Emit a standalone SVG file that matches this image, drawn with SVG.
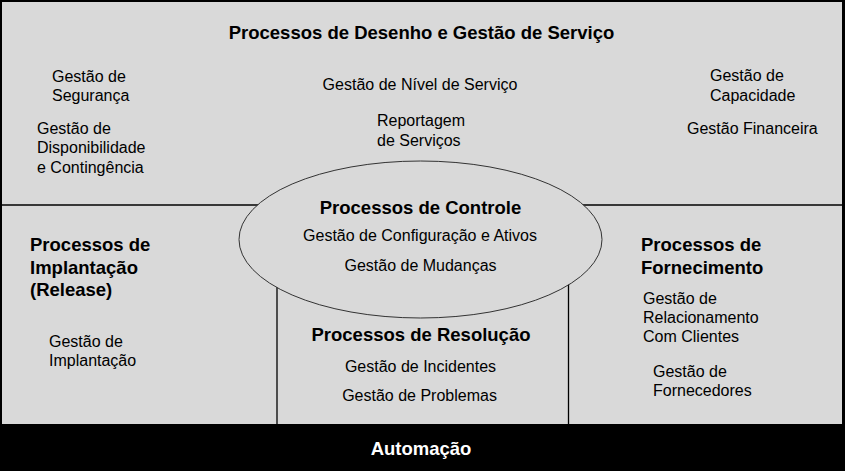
<svg xmlns="http://www.w3.org/2000/svg" width="845" height="471" viewBox="0 0 845 471">
<style>
.t{font-family:"Liberation Sans",Arial,sans-serif;font-size:16px;fill:#000}
.b{font-family:"Liberation Sans",Arial,sans-serif;font-size:18.5px;font-weight:bold;fill:#000}
.c{text-anchor:middle}
.w{fill:#fff}
.ln{stroke:#000;stroke-width:1.3;fill:none}
</style>
<rect x="0" y="0" width="845" height="471" fill="#000"/>
<rect x="2" y="2" width="840" height="422" fill="#d9d9d9"/>
<g id="dividers">
<line class="ln" x1="2" y1="205" x2="842" y2="205"/>
<line class="ln" x1="277" y1="250" x2="277" y2="424"/>
<line class="ln" x1="568.5" y1="250" x2="568.5" y2="424"/>
</g>
<g id="desenho">
<text class="b c" x="421.5" y="39">Processos de Desenho e Gestão de Serviço</text>
<text class="t" x="52" y="82">Gestão de</text>
<text class="t" x="52" y="101">Segurança</text>
<text class="t" x="37" y="134">Gestão de</text>
<text class="t" x="37" y="153">Disponibilidade</text>
<text class="t" x="37" y="173">e Contingência</text>
<text class="t c" x="420" y="90">Gestão de Nível de Serviço</text>
<text class="t" x="377" y="126">Reportagem</text>
<text class="t" x="377" y="146">de Serviços</text>
<text class="t" x="710" y="81">Gestão de</text>
<text class="t" x="710" y="101">Capacidade</text>
<text class="t" x="687" y="134">Gestão Financeira</text>
</g>
<g id="implantacao">
<text class="b" x="30" y="251">Processos de</text>
<text class="b" x="30" y="274">Implantação</text>
<text class="b" x="30" y="296">(Release)</text>
<text class="t" x="49" y="347">Gestão de</text>
<text class="t" x="49" y="366">Implantação</text>
</g>
<g id="fornecimento">
<text class="b" x="641" y="251">Processos de</text>
<text class="b" x="641" y="274">Fornecimento</text>
<text class="t" x="643" y="304">Gestão de</text>
<text class="t" x="643" y="323">Relacionamento</text>
<text class="t" x="643" y="342">Com Clientes</text>
<text class="t" x="653" y="377">Gestão de</text>
<text class="t" x="653" y="396">Fornecedores</text>
</g>
<g id="resolucao">
<text class="b c" x="421" y="341">Processos de Resolução</text>
<text class="t c" x="420.5" y="372">Gestão de Incidentes</text>
<text class="t c" x="419.5" y="401">Gestão de Problemas</text>
</g>
<g id="controle">
<ellipse cx="420.5" cy="239.5" rx="181.5" ry="78.5" fill="#d9d9d9" stroke="#333" stroke-width="1"/>
<text class="b c" x="420.5" y="214">Processos de Controle</text>
<text class="t c" x="420" y="241">Gestão de Configuração e Ativos</text>
<text class="t c" x="420.5" y="271">Gestão de Mudanças</text>
</g>
<g id="automacao">
<rect x="0" y="424" width="845" height="47" fill="#000"/>
<text class="b c w" x="421" y="455">Automação</text>
</g>
</svg>
